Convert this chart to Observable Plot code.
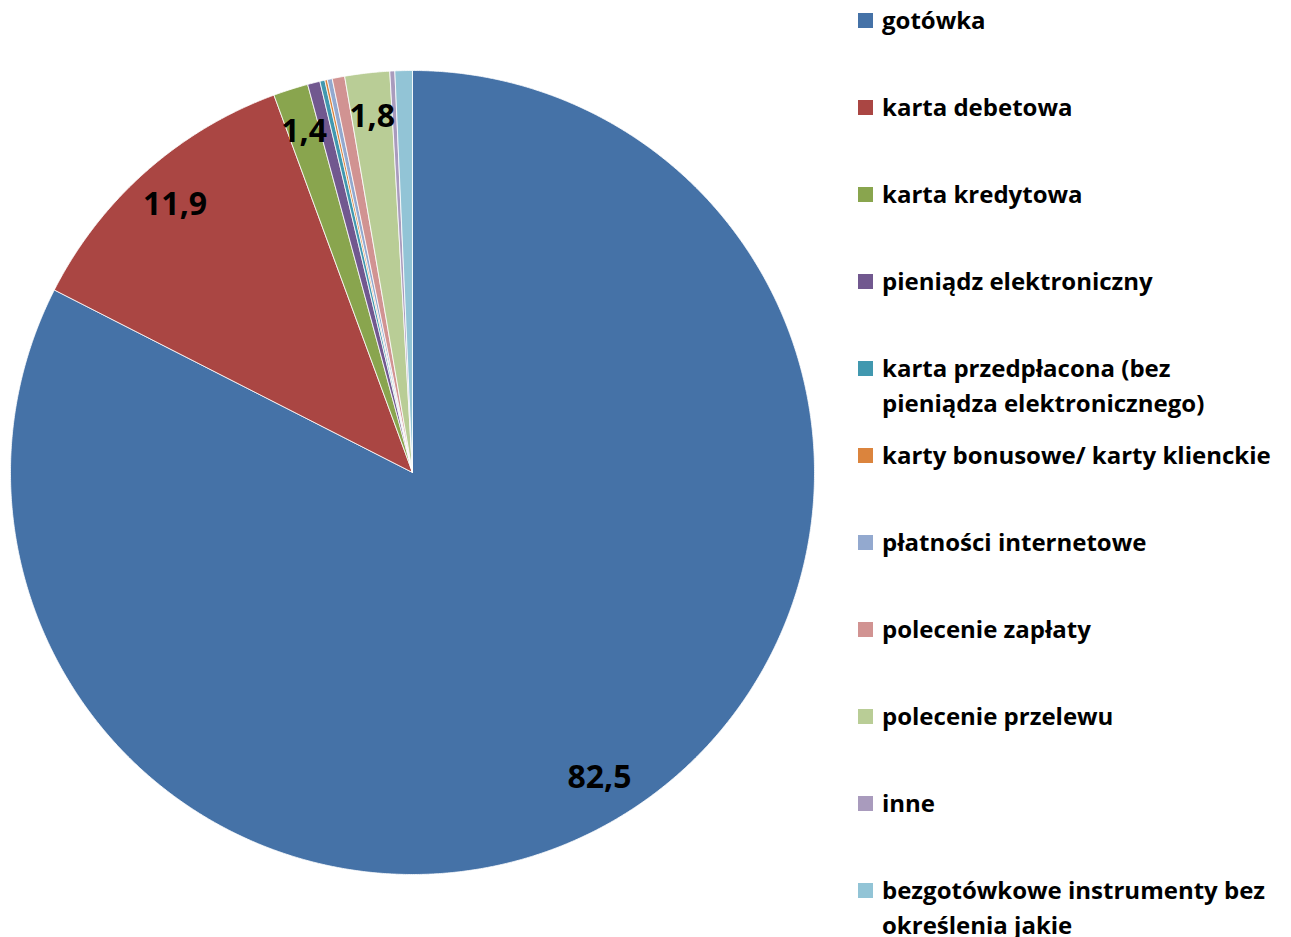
<!DOCTYPE html>
<html>
<head>
<meta charset="utf-8">
<script src="https://cdn.jsdelivr.net/npm/d3@7"></script>
<script src="https://cdn.jsdelivr.net/npm/@observablehq/plot@0.6"></script>
<style>
  html, body { margin: 0; padding: 0; background: #fff; }
  #wrap { position: relative; width: 1291px; height: 937px; overflow: hidden; }
  #chart { position: absolute; left: 0; top: 0; }
  #legend { position: absolute; left: 858px; top: 0; font-family: "Open Sans", Lato, sans-serif; font-weight: bold; font-size: 24px; color: #000; }
  .item { position: absolute; left: 0; white-space: nowrap; }
  .sw { position: absolute; left: 0; width: 15px; height: 15px; }
  .lbl { position: absolute; left: 24px; line-height: 35px; }
</style>
</head>
<body>
<div id="wrap"><div id="chart"></div><div id="legend"></div></div>
<script>
const categories = [
  "gotówka",
  "karta debetowa",
  "karta kredytowa",
  "pieniądz elektroniczny",
  "karta przedpłacona (bez pieniądza elektronicznego)",
  "karty bonusowe/ karty klienckie",
  "płatności internetowe",
  "polecenie zapłaty",
  "polecenie przelewu",
  "inne",
  "bezgotówkowe instrumenty bez określenia jakie"
];
const legendLines = [
  ["gotówka"],
  ["karta debetowa"],
  ["karta kredytowa"],
  ["pieniądz elektroniczny"],
  ["karta przedpłacona (bez", "pieniądza elektronicznego)"],
  ["karty bonusowe/ karty klienckie"],
  ["płatności internetowe"],
  ["polecenie zapłaty"],
  ["polecenie przelewu"],
  ["inne"],
  ["bezgotówkowe instrumenty bez", "określenia jakie"]
];
const values = [82.5, 11.9, 1.4, 0.5, 0.2, 0.1, 0.2, 0.5, 1.8, 0.2, 0.7];
const colors = ["#4572A7", "#AA4643", "#89A54E", "#71588F", "#4198AF", "#DB843D", "#93A9CF", "#D19392", "#B9CD96", "#A99BBD", "#92C4D6"];
const labelMin = 1;

// Geometry (layout)
const W = 825, H = 937, cx = 412, cy = 472, R = 402;

const total = d3.sum(values);
let cum = 0;
const slices = categories.map((key, i) => {
  const a0 = cum / total * 2 * Math.PI;
  cum += values[i];
  const a1 = cum / total * 2 * Math.PI;
  return {key, value: values[i], a0, a1};
});

const pts = [];
for (const s of slices) {
  pts.push({key: s.key, x: 0, y: 0});
  const n = Math.max(2, Math.ceil((s.a1 - s.a0) / (Math.PI / 720)));
  for (let k = 0; k <= n; k++) {
    const a = s.a0 + (s.a1 - s.a0) * k / n;
    pts.push({key: s.key, x: Math.sin(a), y: Math.cos(a)});
  }
  pts.push({key: s.key, x: 0, y: 0});
}

const labels = slices.filter(s => s.value >= labelMin).map(s => {
  const a = (s.a0 + s.a1) / 2;
  return {x: 0.89 * Math.sin(a), y: 0.89 * Math.cos(a), text: s.value.toFixed(1).replace(".", ",")};
});

const chart = Plot.plot({
  width: W, height: H,
  margin: 0,
  x: {domain: [-cx / R, (W - cx) / R], axis: null},
  y: {domain: [-(H - cy) / R, cy / R], axis: null},
  color: {domain: categories, range: colors},
  marks: [
    Plot.line(pts, {x: "x", y: "y", z: "key", fill: "key", stroke: "white", strokeWidth: 0.8, strokeLinejoin: "round", curve: "linear"}),
    Plot.text(labels, {x: "x", y: "y", text: "text", fontSize: 32, fontWeight: "bold", fill: "black", fontFamily: "'Open Sans', Lato, sans-serif"})
  ]
});
document.getElementById("chart").appendChild(chart);

const legend = document.getElementById("legend");
categories.forEach((c, i) => {
  const item = document.createElement("div");
  item.className = "item";
  item.style.top = (87 * i) + "px";
  const sw = document.createElement("div");
  sw.className = "sw";
  sw.style.top = "13px";
  sw.style.background = colors[i];
  item.appendChild(sw);
  const lbl = document.createElement("div");
  lbl.className = "lbl";
  lbl.style.top = "2px";
  lbl.innerHTML = legendLines[i].join("<br>");
  item.appendChild(lbl);
  legend.appendChild(item);
});
</script>
</body>
</html>
